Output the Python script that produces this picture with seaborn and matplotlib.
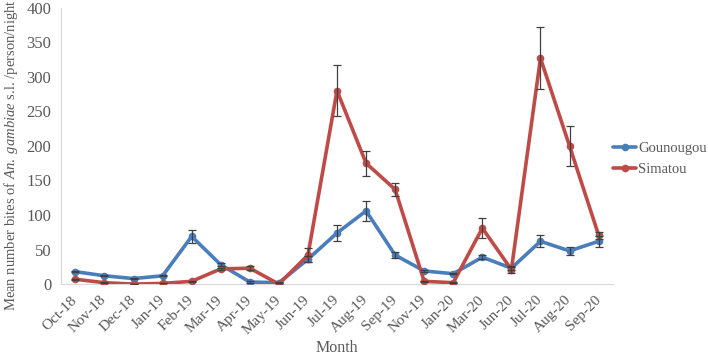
import numpy as np
import pandas as pd
import seaborn as sns
import matplotlib.pyplot as plt

# ---- data ----
months = ['Oct-18', 'Nov-18', 'Dec-18', 'Jan-19', 'Feb-19', 'Mar-19', 'Apr-19', 'May-19',
          'Jun-19', 'Jul-19', 'Aug-19', 'Sep-19', 'Nov-19', 'Jan-20', 'Mar-20', 'Jun-20',
          'Jul-20', 'Aug-20', 'Sep-20']
gounougou = [18, 12, 8, 12, 69, 28, 3, 2, 36, 74, 106, 42, 19, 15, 39, 23, 62, 48, 62]
gounougou_err = [1, 1, 1, 1, 9, 2, 1, 1, 4, 11, 14, 4, 1, 1, 3, 2, 9, 6, 8]
simatou = [7, 2, 0, 1, 4, 22, 23, 0, 42, 280, 175, 137, 4, 2, 81, 21, 327, 200, 71]
simatou_err = [1, 1, 0, 0, 1, 2, 3, 1, 10, 37, 18, 9, 1, 1, 14, 5, 45, 29, 5]

series = {'Gounougou': (gounougou, gounougou_err, '#4A7EBB'),
          'Simatou': (simatou, simatou_err, '#BE4B48')}

# ---- style ----
sns.set_style('white')
plt.rcParams['font.family'] = ['Liberation Serif', 'DejaVu Serif']
plt.rcParams['mathtext.fontset'] = 'custom'
plt.rcParams['mathtext.rm'] = 'Liberation Serif'
plt.rcParams['mathtext.it'] = 'Liberation Serif:italic'
text_col = '#595959'
axis_col = '#D9D9D9'

frames = []
for name, (vals, errs, _) in series.items():
    frames.append(pd.DataFrame({'pos': np.arange(len(months)), 'month': months,
                                'value': vals, 'err': errs, 'site': name}))
df = pd.concat(frames, ignore_index=True)

fig = plt.figure(figsize=(7.08, 3.56), dpi=100)
ax = fig.add_axes([0.086, 0.202, 0.780, 0.776])

palette = {k: v[2] for k, v in series.items()}
sns.lineplot(data=df, x='pos', y='value', hue='site', palette=palette,
             marker='o', markersize=5.5, markeredgewidth=0, linewidth=2.6,
             ax=ax, legend=True, zorder=3)

for name, (vals, errs, col) in series.items():
    ax.errorbar(np.arange(len(months)), vals, yerr=errs, fmt='none',
                ecolor='#404040', elinewidth=0.9, capsize=2.8, capthick=0.9, zorder=4)

ax.set_xlim(-0.5, len(months) - 0.5)
ax.set_ylim(0, 400)
ax.set_yticks(range(0, 401, 50))
ax.set_xticks(np.arange(len(months)))
ax.set_xticklabels(months, rotation=45, ha='right', va='center', rotation_mode='anchor',
                   fontsize=11, color=text_col)
ax.set_xticks(np.arange(len(months) + 1) - 0.5, minor=True)
ax.tick_params(axis='x', which='major', length=0, pad=10)
ax.tick_params(axis='x', which='minor', length=4, color=axis_col, width=0.8)
ax.tick_params(axis='y', labelsize=12, colors=text_col, length=4, color=axis_col, width=0.8, pad=3)
for lab in ax.get_yticklabels():
    lab.set_color(text_col)

for s in ['top', 'right']:
    ax.spines[s].set_visible(False)
for s in ['left', 'bottom']:
    ax.spines[s].set_color(axis_col)
    ax.spines[s].set_linewidth(0.8)

ax.set_xlabel('Month', fontsize=11.5, color=text_col, labelpad=2)
ax.set_ylabel(r'Mean number bites of $\mathit{An.\ gambiae}$ s.l. /person/night',
              fontsize=10.5, color=text_col)
ax.yaxis.set_label_coords(-0.074, 0.465)

leg = ax.legend(loc='center left', bbox_to_anchor=(1.0, 0.453), frameon=False,
                fontsize=10.5, handlelength=1.6, handletextpad=0.1, labelspacing=0.55,
                borderpad=0, borderaxespad=0, labelcolor=text_col)

fig.savefig('out.png', dpi=100)
